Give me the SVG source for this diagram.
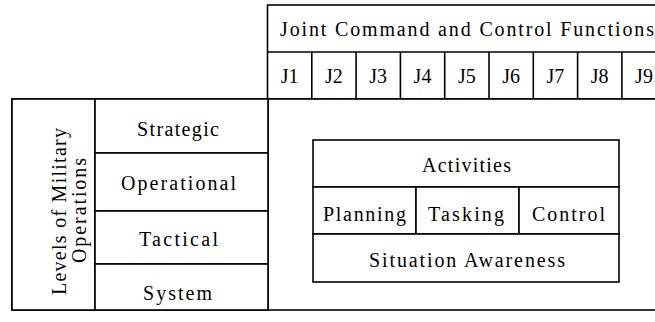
<svg xmlns="http://www.w3.org/2000/svg" width="655" height="322" viewBox="0 0 655 322">
<style>
.b{fill:#fff;stroke:#000;stroke-width:1.6}
.l{stroke:#000;stroke-width:1.6;fill:none}
text{font-family:"Liberation Serif","Times New Roman",serif;font-size:20px;fill:#000;text-anchor:middle}
</style>
<rect width="655" height="322" fill="#fff"/>
<g id="header">
<rect class="b" x="267.5" y="5" width="399" height="94"/>
<line class="l" x1="267.5" y1="52" x2="667" y2="52"/>
<text x="467" y="36" textLength="374" lengthAdjust="spacing">Joint Command and Control Functions</text>
</g>
<g id="functions">
<line class="l" x1="311.8" y1="52" x2="311.8" y2="99"/>
<line class="l" x1="356.1" y1="52" x2="356.1" y2="99"/>
<line class="l" x1="400.4" y1="52" x2="400.4" y2="99"/>
<line class="l" x1="444.7" y1="52" x2="444.7" y2="99"/>
<line class="l" x1="489" y1="52" x2="489" y2="99"/>
<line class="l" x1="533.3" y1="52" x2="533.3" y2="99"/>
<line class="l" x1="577.6" y1="52" x2="577.6" y2="99"/>
<line class="l" x1="621.9" y1="52" x2="621.9" y2="99"/>
<text x="289.6" y="83">J1</text>
<text x="333.9" y="83">J2</text>
<text x="378.2" y="83">J3</text>
<text x="422.5" y="83">J4</text>
<text x="466.8" y="83">J5</text>
<text x="511.1" y="83">J6</text>
<text x="555.4" y="83">J7</text>
<text x="599.7" y="83">J8</text>
<text x="644" y="83">J9</text>
</g>
<g id="main">
<rect class="b" x="12" y="99" width="655" height="211"/>
<line class="l" x1="268" y1="99" x2="268" y2="310"/>
</g>
<g id="levels">
<rect class="b" x="12" y="99" width="83" height="211"/>
<text transform="rotate(-90 66 211.5)" x="66" y="211.5" textLength="167" lengthAdjust="spacing">Levels of Military</text>
<text transform="rotate(-90 86 210.5)" x="86" y="210.5" textLength="105" lengthAdjust="spacing">Operations</text>
</g>
<g id="strategic">
<rect class="b" x="95" y="99" width="173" height="54"/>
<text x="178" y="136" textLength="82" lengthAdjust="spacing">Strategic</text>
</g>
<g id="operational">
<rect class="b" x="95" y="153" width="173" height="58"/>
<text x="178.5" y="190" textLength="115" lengthAdjust="spacing">Operational</text>
</g>
<g id="tactical">
<rect class="b" x="95" y="211" width="173" height="53"/>
<text x="178.5" y="246" textLength="79" lengthAdjust="spacing">Tactical</text>
</g>
<g id="system">
<rect class="b" x="95" y="264" width="173" height="46"/>
<text x="177.5" y="300" textLength="69" lengthAdjust="spacing">System</text>
</g>
<g id="activities">
<rect class="b" x="313" y="140" width="306" height="47"/>
<text x="466.5" y="172" textLength="89" lengthAdjust="spacing">Activities</text>
</g>
<g id="planning">
<rect class="b" x="313" y="187" width="103" height="47"/>
<text x="364.5" y="221" textLength="83" lengthAdjust="spacing">Planning</text>
</g>
<g id="tasking">
<rect class="b" x="416" y="187" width="103" height="47"/>
<text x="466" y="221" textLength="76" lengthAdjust="spacing">Tasking</text>
</g>
<g id="control">
<rect class="b" x="519" y="187" width="100" height="47"/>
<text x="568.5" y="221" textLength="73" lengthAdjust="spacing">Control</text>
</g>
<g id="situation">
<rect class="b" x="313" y="234" width="306" height="48"/>
<text x="467" y="267" textLength="196" lengthAdjust="spacing">Situation Awareness</text>
</g>
<g id="connectors"></g>
</svg>
